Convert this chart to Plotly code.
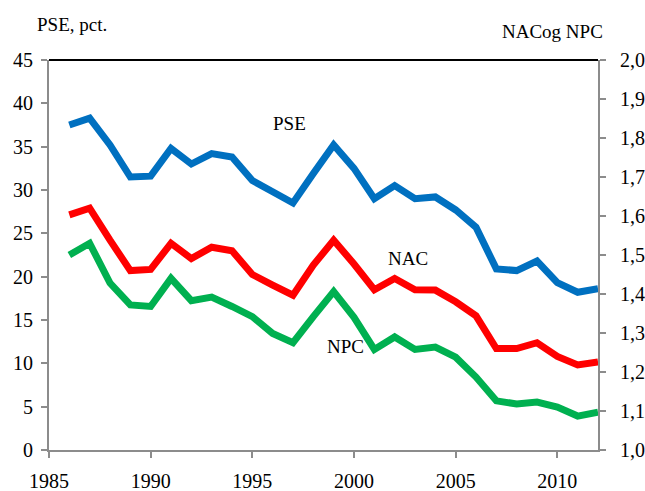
import plotly.graph_objects as go

years = list(range(1986, 2013))
pse = [37.5, 38.3, 35.2, 31.5, 31.6, 34.8, 33.0, 34.2, 33.8, 31.1, 29.8, 28.5, 31.9, 35.2,
       32.5, 29.0, 30.5, 29.0, 29.2, 27.7, 25.7, 20.9, 20.7, 21.8, 19.3, 18.2, 18.6]
nac = [1.603, 1.620, 1.538, 1.460, 1.463, 1.530, 1.491, 1.520, 1.511, 1.450, 1.423, 1.397, 1.474, 1.538,
       1.477, 1.411, 1.440, 1.411, 1.410, 1.380, 1.344, 1.260, 1.260, 1.275, 1.240, 1.218, 1.226]
npc = [1.500, 1.530, 1.428, 1.372, 1.368, 1.440, 1.383, 1.392, 1.368, 1.342, 1.299, 1.275, 1.342, 1.406,
       1.340, 1.258, 1.290, 1.258, 1.264, 1.238, 1.187, 1.126, 1.118, 1.123, 1.110, 1.087, 1.097]

font = "Liberation Serif"
grey = "#8c8c8c"

fig = go.Figure()
fig.add_trace(go.Scatter(x=years, y=pse, mode="lines", name="PSE",
                         line=dict(color="#0070C0", width=7)))
fig.add_trace(go.Scatter(x=years, y=nac, mode="lines", name="NAC", yaxis="y2",
                         line=dict(color="#FF0000", width=7)))
fig.add_trace(go.Scatter(x=years, y=npc, mode="lines", name="NPC", yaxis="y2",
                         line=dict(color="#00B050", width=7)))

axis_style = dict(showline=True, linecolor=grey, linewidth=2, ticks="outside",
                  tickcolor=grey, tickwidth=2, ticklen=6, showgrid=False, zeroline=False,
                  automargin=False, tickfont=dict(family=font, size=20, color="black"))

fig.update_layout(
    width=645, height=491,
    margin=dict(l=49, r=47, t=60, b=41),
    plot_bgcolor="white", paper_bgcolor="white",
    separators=",.",
    showlegend=False,
    xaxis=dict(range=[1985, 2012], dtick=5, tick0=1985, ticklabelstandoff=6, **axis_style),
    yaxis=dict(range=[0, 45], dtick=5, ticklabelstandoff=4, **axis_style),
    yaxis2=dict(range=[1.0, 2.0], dtick=0.1, tickformat=".1f", overlaying="y", side="right",
                ticklabelstandoff=10, **axis_style),
    font=dict(family=font, color="black"),
)

# black frame line along the top of the plot area
fig.add_shape(type="line", xref="paper", yref="paper", x0=0, x1=1, y0=1, y1=1,
              line=dict(color="black", width=2))

fig.add_annotation(x=1996.85, y=37.7, text="PSE", showarrow=False, font=dict(family=font, size=19))
fig.add_annotation(x=2002.65, y=22.1, text="NAC", showarrow=False, font=dict(family=font, size=19))
fig.add_annotation(x=1999.6, y=12.0, text="NPC", showarrow=False, font=dict(family=font, size=19))
fig.add_annotation(xref="paper", yref="paper", x=-0.0255, y=1.09, xanchor="left", yanchor="middle",
                   text="PSE, pct.", showarrow=False, font=dict(family=font, size=19))
fig.add_annotation(xref="paper", yref="paper", x=1.0128, y=1.074, xanchor="right", yanchor="middle",
                   text="NACog NPC", showarrow=False, font=dict(family=font, size=19))

# drop the default body margin so the figure fills the window exactly
fig.write_html("out.html", config={"displayModeBar": False},
               post_script="document.body.style.margin='0';document.body.style.overflow='hidden';")
